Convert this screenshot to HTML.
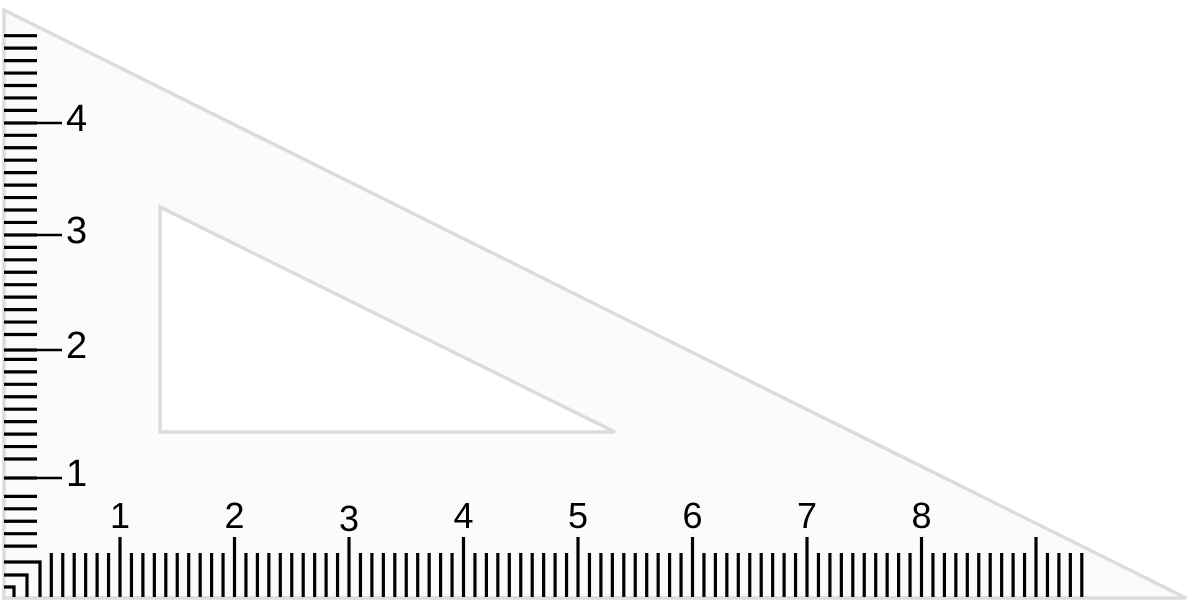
<!DOCTYPE html>
<html><head><meta charset="utf-8"><style>
html,body{margin:0;padding:0;background:#fff;width:1196px;height:605px;overflow:hidden}
svg{display:block}
text{font-family:"Liberation Sans","DejaVu Sans",sans-serif;fill:#000}
</style></head><body>
<svg id="s" width="1196" height="605" viewBox="0 0 1196 605">
<polygon points="4,10 1186,598 4,598" fill="#fbfbfb" stroke="#dcdcdc" stroke-width="3.5"/>
<polygon points="160,207 160,432 615,432" fill="#fff" stroke="#dcdcdc" stroke-width="3.5"/>
<g id="ticks"></g>
</svg>
<script>
const xLabels=["1","2","3","4","5","6","7","8"];
const yLabels=["1","2","3","4"];
const yMajorPos=[478,350,235,123];
const NS="http://www.w3.org/2000/svg";
const g=document.getElementById('ticks');
function X(u){return 120+(u-1)*114.5;}
function mk(t,a){const e=document.createElementNS(NS,t);for(const k in a)e.setAttribute(k,a[k]);g.appendChild(e);return e;}
for(let k=-6;k<=84;k++){
  const x=X(1+k/10);const major=k%10===0;
  const l=mk('line',{x1:x,x2:x,y1:major?537:553,y2:597,stroke:'#000','stroke-width':3.2});
  
  
}
xLabels.forEach(s=>{
  const t=mk('text',{x:X(+s),y:s==="3"?531:528,'text-anchor':'middle','font-size':36});
  t.textContent=s;
  
  
});
for(let k=0;k<=41;k++){
  const y=35.7+k*12.45;
  if(yMajorPos.some(m=>Math.abs(m-y)<7))continue;
  const l=mk('line',{x1:4,x2:37,y1:y,y2:y,stroke:'#000','stroke-width':3.2});
  
  
}
yLabels.forEach((s,i)=>{
  const y=yMajorPos[i];
  const l1=mk('line',{x1:4,x2:37,y1:y,y2:y,stroke:'#000','stroke-width':3.2});
  
  
  const l=mk('line',{x1:4,x2:62,y1:y,y2:y,stroke:'#000','stroke-width':2.4});
  
  
  const t=mk('text',{x:66,y:y+8,'font-size':38});
  t.textContent=s;
  
  
});
[[40,562],[27,575],[14,587]].forEach(p=>{
  const e=mk('polyline',{points:`4,${p[1]} ${p[0]},${p[1]} ${p[0]},597`,fill:'none',stroke:'#000','stroke-width':3.2});
  
  
});
</script>
</body></html>
